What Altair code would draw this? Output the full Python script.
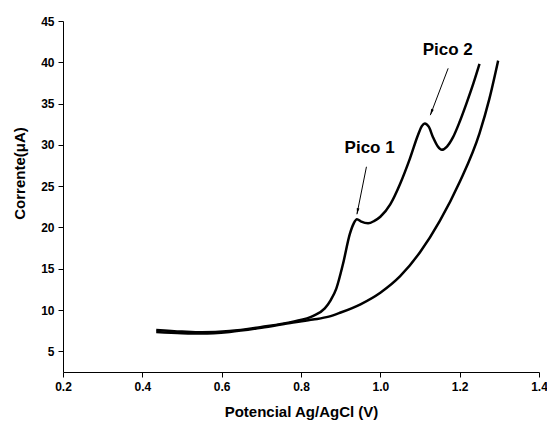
import altair as alt
import pandas as pd

# Curve with peaks (anodic scan with analyte)
a_x = [0.435, 0.50, 0.55, 0.62, 0.70, 0.78, 0.831, 0.86, 0.875, 0.889, 0.906, 0.923,
       0.933, 0.941, 0.952, 0.969, 0.985, 1.0, 1.025, 1.05, 1.075, 1.095, 1.105,
       1.112, 1.122, 1.133, 1.145, 1.155, 1.168, 1.183, 1.20, 1.217, 1.235, 1.25]
a_y = [7.6, 7.4, 7.3, 7.45, 7.95, 8.6, 9.3, 10.2, 11.2, 12.6, 15.6, 19.2,
       20.5, 21.0, 20.7, 20.5, 20.8, 21.3, 22.8, 25.3, 28.4, 31.2, 32.3,
       32.6, 32.2, 30.9, 29.8, 29.4, 29.8, 30.9, 32.8, 35.0, 37.5, 39.8]

# Smooth curve (baseline scan)
b_x = [0.435, 0.50, 0.55, 0.62, 0.70, 0.78, 0.83, 0.87, 0.90, 0.95, 1.0, 1.05,
       1.10, 1.15, 1.20, 1.25, 1.275, 1.297]
b_y = [7.35, 7.2, 7.15, 7.35, 7.85, 8.5, 8.85, 9.2, 9.7, 10.7, 12.1, 14.1,
       17.0, 20.8, 25.5, 31.4, 35.6, 40.2]

labels = ["Pico 1", "Pico 2"]
label_x = [0.973, 1.17]
label_y = [29.6, 41.5]
arrow_x0 = [0.965, 1.171]
arrow_y0 = [27.35, 39.27]
arrow_x1 = [0.941, 1.126]
arrow_y1 = [21.6, 33.6]
arrow_angle = [11.2, 20.6]

curves = pd.DataFrame(
    [{"curve": "A", "i": i, "x": x, "y": y} for i, (x, y) in enumerate(zip(a_x, a_y))]
    + [{"curve": "B", "i": i, "x": x, "y": y} for i, (x, y) in enumerate(zip(b_x, b_y))]
)
ann = pd.DataFrame({"label": labels, "x": label_x, "y": label_y,
                    "x0": arrow_x0, "y0": arrow_y0, "x1": arrow_x1, "y1": arrow_y1,
                    "angle": arrow_angle})

FONT = "Liberation Sans"
xvals = [round(0.2 + 0.1 * k, 1) for k in range(13)]
yvals = [2.5 * k for k in range(2, 19)]

xscale = alt.Scale(domain=[0.2, 1.4], nice=False, zero=False)
yscale = alt.Scale(domain=[2.5, 45], nice=False, zero=False)

xaxis = alt.Axis(values=xvals, title="Potencial Ag/AgCl (V)",
                 labelExpr="round(datum.value*10) % 2 == 0 ? format(datum.value, '.1f') : ''",
                 grid=False, tickSize=5, labelPadding=4, labelFontSize=12,
                 labelFont=FONT, labelFontWeight="bold", labelColor="black",
                 titleFont=FONT, titleFontSize=15, titleFontWeight="bold", titleColor="black",
                 titlePadding=12, domainColor="black", tickColor="black", labelFlush=False,
                 labelOverlap=False)
yaxis = alt.Axis(values=yvals, title="Corrente(μA)",
                 labelExpr="datum.value % 5 == 0 ? format(datum.value, 'd') : ''",
                 grid=False, tickSize=5, labelPadding=4, labelFontSize=12,
                 labelFont=FONT, labelFontWeight="bold", labelColor="black",
                 titleFont=FONT, titleFontSize=15, titleFontWeight="bold", titleColor="black",
                 titleX=-44, titleY=152, titleAngle=-90, titleBaseline="middle", titleAlign="center",
                 domainColor="black", tickColor="black", labelOverlap=False, labelFlush=False)

lines = alt.Chart(curves).mark_line(color="black", strokeWidth=2.5, interpolate="monotone").encode(
    x=alt.X("x:Q", scale=xscale, axis=xaxis),
    y=alt.Y("y:Q", scale=yscale, axis=yaxis),
    detail="curve:N",
    order="i:Q",
)

arrows = alt.Chart(ann).mark_rule(color="black", strokeWidth=1).encode(
    x=alt.X("x0:Q", scale=xscale), y=alt.Y("y0:Q", scale=yscale),
    x2="x1:Q", y2="y1:Q",
)

heads = alt.Chart(ann).mark_point(
    shape="M0,0 L-0.35,-1.6 L0.35,-1.6 Z", filled=True, color="black", size=60, opacity=1
).encode(
    x=alt.X("x1:Q", scale=xscale), y=alt.Y("y1:Q", scale=yscale),
    angle=alt.Angle("angle:Q", scale=None),
)

texts = alt.Chart(ann).mark_text(font=FONT, fontSize=17, fontWeight="bold", color="black").encode(
    x=alt.X("x:Q", scale=xscale), y=alt.Y("y:Q", scale=yscale), text="label:N",
)

chart = alt.layer(lines, arrows, heads, texts).properties(
    width=476, height=351,
    autosize=alt.AutoSizeParams(type="none"),
    padding={"left": 63, "top": 21, "right": 8, "bottom": 53},
    background="white",
).configure_view(stroke=None)

chart.save("out.html", embed_options={"renderer": "svg", "actions": False})
